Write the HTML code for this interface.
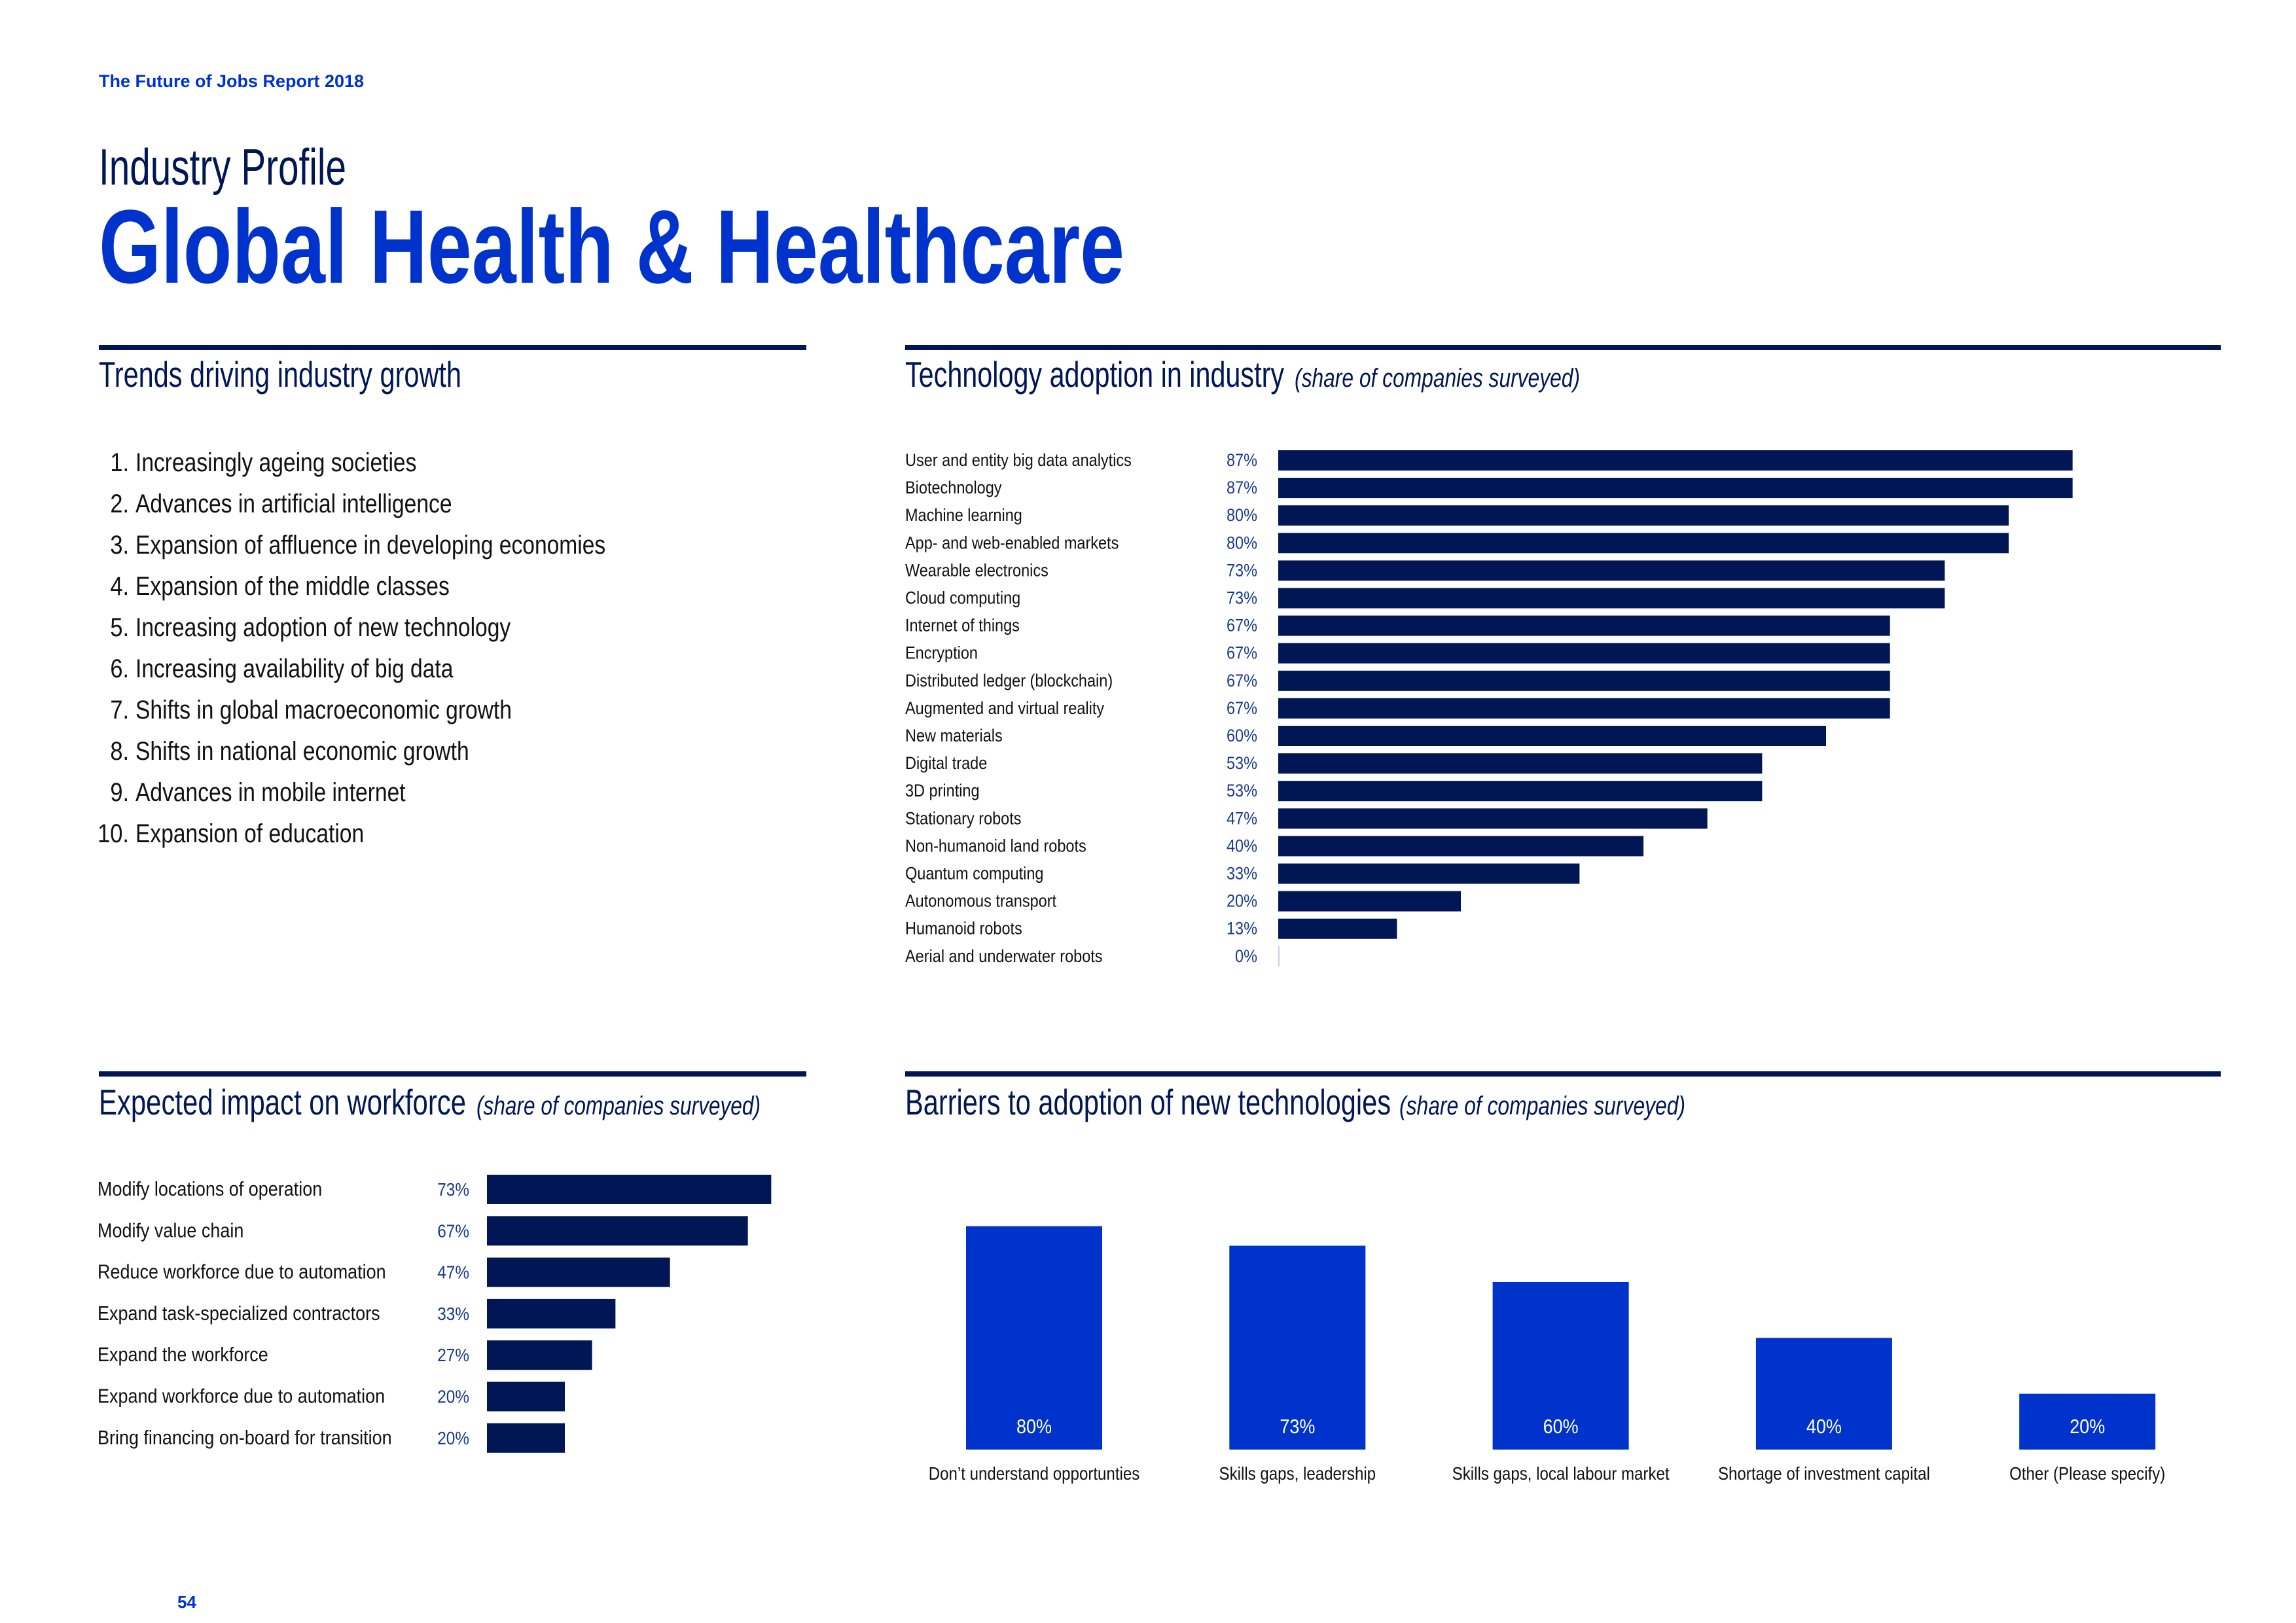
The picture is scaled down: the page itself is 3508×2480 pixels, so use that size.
<!DOCTYPE html>
<html><head><meta charset="utf-8"><style>
html,body{margin:0;padding:0;background:#fff}
svg{display:block}
.n{font-family:"Liberation Sans Narrow","Liberation Sans",sans-serif}
.s{font-family:"Liberation Sans",sans-serif}
</style></head><body>
<svg id="page" width="3508" height="2480" viewBox="0 0 3508 2480" xmlns="http://www.w3.org/2000/svg">
<text class="s" x="151" y="133" font-size="27" font-weight="bold" fill="#0033cc">The Future of Jobs Report 2018</text>
<text class="n" x="151" y="282" font-size="78" fill="#001655" textLength="378" lengthAdjust="spacingAndGlyphs">Industry Profile</text>
<text class="n" x="151" y="432" font-size="160" font-weight="bold" fill="#0033cc" textLength="1567" lengthAdjust="spacingAndGlyphs">Global Health &amp; Healthcare</text>

<rect x="151" y="527" width="1081" height="8" fill="#001655"/>
<rect x="1383" y="527" width="2010" height="8" fill="#001655"/>
<rect x="151" y="1637" width="1081" height="8" fill="#001655"/>
<rect x="1383" y="1637" width="2010" height="8" fill="#001655"/>

<text class="n" x="151" y="591" font-size="55" fill="#001655" textLength="554" lengthAdjust="spacingAndGlyphs">Trends driving industry growth</text>
<text class="n" x="1383" y="591" font-size="55" fill="#001655" textLength="579" lengthAdjust="spacingAndGlyphs">Technology adoption in industry</text>
<text class="n" x="1978" y="591" font-size="40" font-style="italic" fill="#001655" textLength="436" lengthAdjust="spacingAndGlyphs">(share of companies surveyed)</text>
<text class="n" x="151" y="1703" font-size="55" fill="#001655" textLength="561" lengthAdjust="spacingAndGlyphs">Expected impact on workforce</text>
<text class="n" x="728" y="1703" font-size="40" font-style="italic" fill="#001655" textLength="434" lengthAdjust="spacingAndGlyphs">(share of companies surveyed)</text>
<text class="n" x="1383" y="1703" font-size="55" fill="#001655" textLength="742" lengthAdjust="spacingAndGlyphs">Barriers to adoption of new technologies</text>
<text class="n" x="2138" y="1703" font-size="40" font-style="italic" fill="#001655" textLength="437" lengthAdjust="spacingAndGlyphs">(share of companies surveyed)</text>

<g id="trends"></g>
<g id="tech"></g>
<g id="work"></g>
<g id="barr"></g>

<text class="s" x="271" y="2457" font-size="26" font-weight="bold" fill="#0033cc">54</text>
</svg>
<script>
const trendItems = ["Increasingly ageing societies","Advances in artificial intelligence","Expansion of affluence in developing economies","Expansion of the middle classes","Increasing adoption of new technology","Increasing availability of big data","Shifts in global macroeconomic growth","Shifts in national economic growth","Advances in mobile internet","Expansion of education"];

const techCategories = ["User and entity big data analytics","Biotechnology","Machine learning","App- and web-enabled markets","Wearable electronics","Cloud computing","Internet of things","Encryption","Distributed ledger (blockchain)","Augmented and virtual reality","New materials","Digital trade","3D printing","Stationary robots","Non-humanoid land robots","Quantum computing","Autonomous transport","Humanoid robots","Aerial and underwater robots"];
const techValues = [87,87,80,80,73,73,67,67,67,67,60,53,53,47,40,33,20,13,0];

const workCategories = ["Modify locations of operation","Modify value chain","Reduce workforce due to automation","Expand task-specialized contractors","Expand the workforce","Expand workforce due to automation","Bring financing on-board for transition"];
const workValues = [73,67,47,33,27,20,20];

const barrierCategories = ["Don\u2019t understand opportunties","Skills gaps, leadership","Skills gaps, local labour market","Shortage of investment capital","Other (Please specify)"];
const barrierValues = [80,73,60,40,20];

const NS = "http://www.w3.org/2000/svg";
function mk(tag, attrs, parent, txt){
  const e = document.createElementNS(NS, tag);
  for (const k in attrs) e.setAttribute(k, attrs[k]);
  if (txt !== undefined) e.textContent = txt;
  parent.appendChild(e);
  return e;
}
function txt(x, y, sx, attrs, parent, s){
  attrs.x = 0; attrs.y = 0;
  attrs.transform = 'translate(' + x + ',' + y + ') scale(' + sx + ',1)';
  return mk('text', attrs, parent, s);
}
const NAVY = "#001655", BLUE = "#0033cc", VAL = "#1a3a8f";

// trends
const tg = document.getElementById('trends');
trendItems.forEach((t,i)=>{
  const y = 720 + i*63;
  const num = txt(197, y, 0.86, {'font-size':40,'text-anchor':'end',fill:'#111',class:'s'}, tg, (i+1)+'.');
  
  
  const tx = txt(207, y, 0.84, {'font-size':40,fill:'#111',class:'s'}, tg, t);
  
  
});

// tech chart
const techX = v => 1953 + v*13.95;
const techY = i => 703 + i*42.1;
const tch = document.getElementById('tech');
techCategories.forEach((c,i)=>{
  const yc = techY(i);
  const lb = txt(1383, yc+9, 0.87, {'font-size':27,fill:'#111',class:'s'}, tch, c);
  
  
  const vl = txt(1921, yc+9, 0.87, {'font-size':27,fill:VAL,'text-anchor':'end',class:'s'}, tch, techValues[i]+'%');
  
  
  const w = techX(techValues[i]) - techX(0);
  const b = mk('rect',{x:techX(0),y:yc-15,width:Math.max(w,2),height:31,fill:w>0?NAVY:'#c8d0e8'},tch);
  
  
});

// workforce chart
const workX = v => 744 + v*5.95;
const workY = i => 1817 + i*63.3;
const wg = document.getElementById('work');
workCategories.forEach((c,i)=>{
  const yc = workY(i);
  const lb = txt(149, yc+10, 0.87, {'font-size':31,fill:'#111',class:'s'}, wg, c);
  
  
  const vl = txt(717, yc+10, 0.87, {'font-size':28,fill:VAL,'text-anchor':'end',class:'s'}, wg, workValues[i]+'%');
  
  
  const b = mk('rect',{x:workX(0),y:yc-22,width:workX(workValues[i])-workX(0),height:45,fill:NAVY},wg);
  
  
});

// barriers chart
const barBase = 2215;
const barY = v => barBase - v*4.267;
const barCX = i => 1580 + i*402.3;
const bg = document.getElementById('barr');
barrierCategories.forEach((c,i)=>{
  const cx = barCX(i);
  const b = mk('rect',{x:cx-104,y:barY(barrierValues[i]),width:208,height:barBase-barY(barrierValues[i]),fill:BLUE},bg);
  
  
  const vl = txt(cx, 2190, 0.87, {'font-size':31,fill:'#fff','text-anchor':'middle',class:'s'}, bg, barrierValues[i]+'%');
  
  
  const lb = txt(cx, 2261, 0.86, {'font-size':28,fill:'#111','text-anchor':'middle',class:'s'}, bg, c);
  
  
});
</script>
</body></html>
